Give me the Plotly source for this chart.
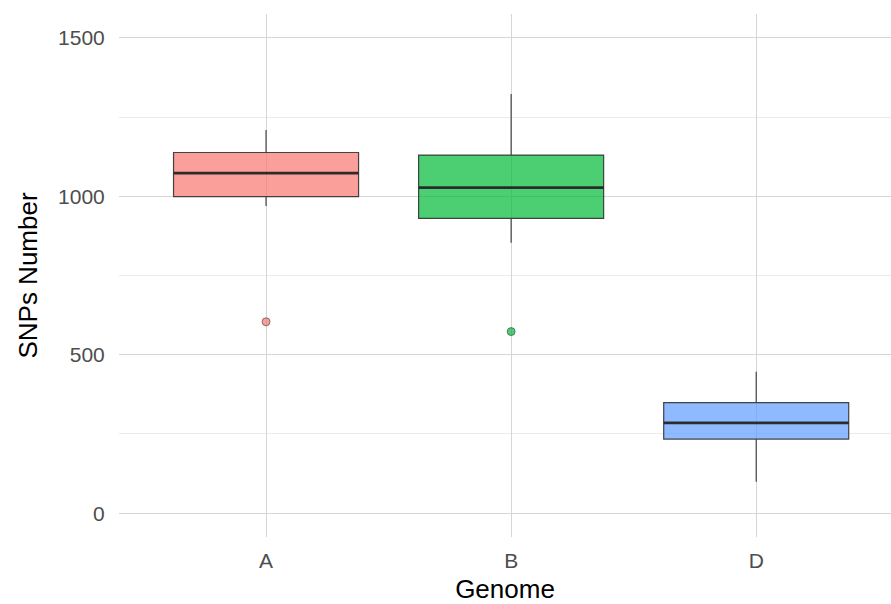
import plotly.graph_objects as go

categories = ["A", "B", "D"]
q1 = [999, 930, 234]
median = [1073, 1027, 285]
q3 = [1138, 1130, 349]
lower_whisker = [969, 853, 99]
upper_whisker = [1209, 1323, 446]
outlier_cat = ["A", "B"]
outlier_val = [604, 573]

fills = ["rgba(248,118,109,0.7)", "rgba(0,186,56,0.7)", "rgba(97,156,255,0.7)"]
fill_map = dict(zip(categories, fills))

fig = go.Figure()
for i, c in enumerate(categories):
    fig.add_trace(go.Box(
        x=[c], q1=[q1[i]], median=[median[i]], q3=[q3[i]],
        lowerfence=[lower_whisker[i]], upperfence=[upper_whisker[i]],
        fillcolor=fills[i], line=dict(color="rgba(40,40,40,0.85)", width=1.2),
        whiskerwidth=0, width=0.755, boxpoints=False, showlegend=False,
        hoverinfo="skip",
    ))
    # thick median line drawn as a degenerate box
    fig.add_trace(go.Box(
        x=[c], q1=[median[i]], median=[median[i]], q3=[median[i]],
        lowerfence=[median[i]], upperfence=[median[i]],
        fillcolor="rgba(0,0,0,0)", line=dict(color="rgba(40,40,40,0.95)", width=2.8),
        whiskerwidth=0, width=0.755, boxpoints=False, showlegend=False,
        hoverinfo="skip",
    ))

fig.add_trace(go.Scatter(
    x=outlier_cat, y=outlier_val, mode="markers",
    marker=dict(size=8, color=[fill_map[c] for c in outlier_cat],
                line=dict(color="rgba(60,60,60,0.6)", width=1)),
    showlegend=False, hoverinfo="skip",
))

fig.update_layout(
    width=891, height=604,
    margin=dict(l=119, r=0, t=14, b=67),
    paper_bgcolor="white", plot_bgcolor="white",
    boxmode="overlay",
    font=dict(family="Liberation Sans, Arial, sans-serif"),
    showlegend=False,
)
fig.update_xaxes(
    type="category", categoryorder="array", categoryarray=categories,
    range=[-0.6, 2.55],
    showgrid=True, gridcolor="#D6D6D6", gridwidth=1,
    zeroline=False, showline=False,
    ticks="outside", ticklen=5, tickcolor="rgba(0,0,0,0)",
    tickfont=dict(size=21, color="#4D4D4D"),
    title=dict(text="Genome", font=dict(size=26, color="black"), standoff=10),
)
fig.update_yaxes(
    range=[-75, 1575],
    tickvals=[0, 500, 1000, 1500],
    showgrid=True, gridcolor="#D6D6D6", gridwidth=1,
    minor=dict(tickvals=[250, 750, 1250], showgrid=True, gridcolor="#EBEBEB", gridwidth=1),
    zeroline=False, showline=False,
    ticks="outside", ticklen=9, tickcolor="rgba(0,0,0,0)",
    tickfont=dict(size=21, color="#4D4D4D"),
    title=dict(text="SNPs Number", font=dict(size=26, color="black"), standoff=12),
)

fig.write_html("out.html")
